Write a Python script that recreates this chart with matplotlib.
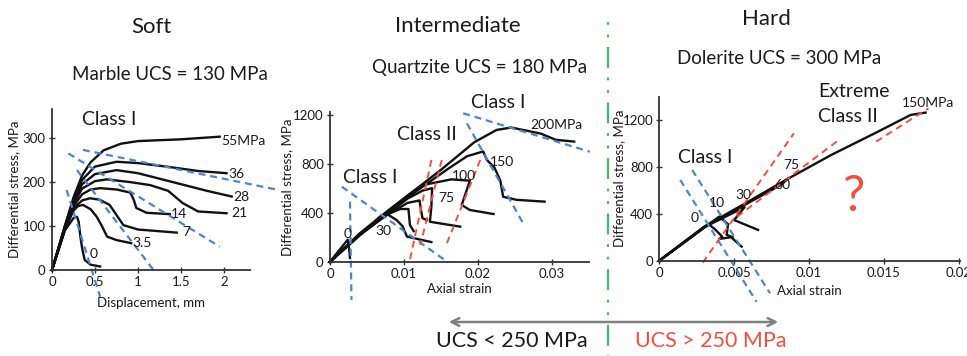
import matplotlib.pyplot as plt

plt.rcParams['font.family'] = ['Lato', 'DejaVu Sans']
plt.rcParams['lines.scale_dashes'] = False

W, H = 967, 356

# ---- Soft: marble, displacement (mm) vs differential stress (MPa)
m55_x = [0, 0.15, 0.25, 0.35, 0.45, 0.6, 0.8, 1.0, 1.5, 1.95]
m55_y = [0, 100, 165, 215, 245, 272, 287, 293, 297, 303]
m36_x = [0, 0.15, 0.25, 0.35, 0.5, 0.75, 1.0, 1.33, 1.7, 2.03]
m36_y = [0, 100, 160, 205, 235, 246, 243, 235, 225, 220]
m28_x = [0, 0.15, 0.25, 0.35, 0.5, 0.75, 1.0, 1.4, 1.8, 2.09]
m28_y = [0, 98, 155, 195, 218, 227, 220, 200, 180, 167]
m21_x = [0, 0.15, 0.25, 0.35, 0.5, 0.64, 0.9, 1.14, 1.35, 1.52, 1.7, 2.03]
m21_y = [0, 97, 150, 185, 202, 206, 200, 193, 180, 152, 133, 129]
m14_x = [0, 0.15, 0.25, 0.35, 0.45, 0.56, 0.75, 0.91, 0.95, 0.98, 1.1, 1.37]
m14_y = [0, 95, 145, 172, 183, 186, 183, 176, 160, 141, 130, 127]
m7_x = [0, 0.15, 0.25, 0.35, 0.44, 0.55, 0.67, 0.75, 0.83, 1.0, 1.45]
m7_y = [0, 93, 140, 158, 163, 160, 148, 125, 102, 92, 85]
m35_x = [0, 0.15, 0.25, 0.3, 0.36, 0.45, 0.52, 0.58, 0.64, 0.75, 0.92]
m35_y = [0, 92, 135, 145, 148, 138, 121, 100, 76, 68, 61]
m0_x = [0, 0.15, 0.25, 0.29, 0.31, 0.33, 0.35, 0.38, 0.45, 0.56]
m0_y = [0, 90, 118, 121, 110, 76, 50, 23, 12, 8]
soft_curves = [(m55_x, m55_y), (m36_x, m36_y), (m28_x, m28_y), (m21_x, m21_y),
               (m14_x, m14_y), (m7_x, m7_y), (m35_x, m35_y), (m0_x, m0_y)]
soft_labels = ['55MPa', '36', '28', '21', '14', '7', '3.5', '0']
soft_lab_x = [1.97, 2.05, 2.11, 2.08, 1.38, 1.52, 0.93, 0.44]
soft_lab_y = [294, 218, 165, 129, 127, 87, 61, 37]
soft_blue = [([0.19, 1.95], [265, 53]), ([0.36, 2.63], [273, 182]),
             ([0.29, 1.2], [227, -5]), ([0.17, 0.56], [182, -61])]

# ---- Intermediate: quartzite, axial strain vs differential stress (MPa)
q200_x = [0, 0.004, 0.008, 0.012, 0.015, 0.0195, 0.0225, 0.0245, 0.0265, 0.0285, 0.0305, 0.033]
q200_y = [0, 230, 425, 610, 750, 975, 1075, 1095, 1070, 1045, 995, 980]
q150_x = [0, 0.004, 0.008, 0.012, 0.016, 0.0185, 0.0207, 0.0212, 0.0222, 0.023, 0.0234, 0.0252, 0.029]
q150_y = [0, 225, 415, 590, 760, 860, 900, 830, 770, 665, 530, 505, 490]
q100_x = [0, 0.004, 0.008, 0.0105, 0.0126, 0.0164, 0.0189, 0.0178, 0.0189, 0.0221]
q100_y = [0, 222, 410, 540, 626, 672, 661, 463, 422, 389]
q75_x = [0, 0.004, 0.008, 0.0105, 0.0125, 0.0138, 0.0137, 0.0135, 0.0176]
q75_y = [0, 220, 400, 515, 580, 600, 450, 326, 286]
q60_x = [0, 0.004, 0.008, 0.0105, 0.0121, 0.0123, 0.0125, 0.0131]
q60_y = [0, 218, 395, 480, 500, 420, 355, 340]
q45_x = [0, 0.004, 0.0075, 0.0095, 0.0106, 0.0108, 0.0113]
q45_y = [0, 215, 380, 430, 430, 300, 250]
q30_x = [0, 0.004, 0.0068, 0.0078, 0.009, 0.0098, 0.0104, 0.0115, 0.0137]
q30_y = [0, 215, 370, 385, 340, 290, 205, 190, 160]
q0_x = [0, 0.0024, 0.0026, 0.0027]
q0_y = [0, 180, 100, 30]
int_curves = [(q200_x, q200_y), (q150_x, q150_y), (q100_x, q100_y), (q75_x, q75_y),
              (q60_x, q60_y), (q45_x, q45_y), (q30_x, q30_y), (q0_x, q0_y)]
int_labels = ['200MPa', '150', '100', '75', '30', '0']
int_lab_x = [0.027, 0.0216, 0.0164, 0.0146, 0.0061, 0.0018]
int_lab_y = [1115, 816, 700, 517, 253, 226]
int_blue = [([0.0016, 0.0155], [612, 14]), ([0.0027, 0.0029], [490, -312]),
            ([0.018, 0.0351], [1211, 898]), ([0.0185, 0.0261], [1129, 313])]
int_red = [([0.0137, 0.0108], [830, 14]), ([0.0151, 0.0122], [830, 136]),
           ([0.0203, 0.0158], [830, 150])]

# ---- Hard: dolerite
d150_x = [0, 0.003, 0.0055, 0.0085, 0.0115, 0.0145, 0.0168, 0.0178]
d150_y = [0, 290, 470, 690, 900, 1090, 1240, 1260]
d60_x = [0, 0.003, 0.0055, 0.0082, 0.0086]
d60_y = [0, 285, 460, 650, 700]
d30_x = [0, 0.003, 0.0057, 0.005, 0.0066]
d30_y = [0, 285, 455, 346, 262]
d10_x = [0, 0.0040, 0.0046, 0.0045, 0.0049]
d10_y = [0, 375, 310, 220, 200]
d0_x = [0, 0.0033, 0.0037, 0.0042, 0.0040, 0.0048, 0.0055]
d0_y = [0, 310, 270, 205, 185, 200, 120]
hard_curves = [(d150_x, d150_y), (d60_x, d60_y), (d30_x, d30_y), (d10_x, d10_y), (d0_x, d0_y)]
hard_labels = ['150MPa', '75', '60', '30', '10', '0']
hard_lab_x = [0.0162, 0.0083, 0.0077, 0.0051, 0.0033, 0.0021]
hard_lab_y = [1340, 814, 644, 559, 488, 361]
hard_blue = [([0.0014, 0.0065], [687, -349]), ([0.0022, 0.0074], [772, -277])]
hard_red = [([0.0029, 0.009], [-17, 1084]), ([0.0052, 0.012], [374, 1027]),
            ([0.0145, 0.018], [1013, 1297])]

BLUE = '#4a86d0'
RED = '#f0503c'
GREEN = '#3dbb6a'
INK = '#1a1a1a'


def px_box(x0, x1, y0, y1):
    # pixel rectangle -> figure fraction [left, bottom, width, height]
    return [x0 / W, 1 - y0 / H, (x1 - x0) / W, (y0 - y1) / H]


fig = plt.figure(figsize=(W / 100, H / 100), dpi=100)

ax1 = fig.add_axes(px_box(52, 249.8, 270, 109.4))
ax2 = fig.add_axes(px_box(330, 589, 261.7, 112.2))
ax3 = fig.add_axes(px_box(659.3, 960, 260.7, 96.7))

panels = [
    (ax1, soft_curves, soft_labels, soft_lab_x, soft_lab_y, soft_blue, []),
    (ax2, int_curves, int_labels, int_lab_x, int_lab_y, int_blue, int_red),
    (ax3, hard_curves, hard_labels, hard_lab_x, hard_lab_y, hard_blue, hard_red),
]

for ax, curves, labs, lx, ly, blues, reds in panels:
    for cx, cy in curves:
        ax.plot(cx, cy, color='#111111', lw=1.7, clip_on=False, solid_joinstyle='round')
    for bx, by in blues:
        ax.plot(bx, by, color=BLUE, lw=1.6, ls=(0, (5, 3.5)), clip_on=False)
    for rx, ry in reds:
        ax.plot(rx, ry, color=RED, lw=1.4, ls=(0, (5, 3.5)), clip_on=False)
    for t, x, y in zip(labs, lx, ly):
        ax.text(x, y, t, fontsize=10, ha='left', va='center', color=INK)
    for s in ['top', 'right']:
        ax.spines[s].set_visible(False)
    for s in ['left', 'bottom']:
        ax.spines[s].set_linewidth(1.3)
        ax.spines[s].set_color('#333333')
    ax.tick_params(direction='inout', length=5, width=1, labelsize=9.5,
                   colors='#333333', labelcolor=INK, pad=2)
    ax.set_facecolor('none')

ax1.set_xlim(0, 2.3)
ax1.set_ylim(0, 365)
ax1.set_xticks([0, 0.5, 1, 1.5, 2], ['0', '0.5', '1', '1.5', '2'])
ax1.set_yticks([0, 100, 200, 300])
ax1.set_xlabel('Displacement, mm', fontsize=9.5, labelpad=6, color=INK)
ax1.set_ylabel('Differential stress, MPa', fontsize=9.5, labelpad=2, color=INK)
ax1.text(0.67, 341, 'Class I', fontsize=14, ha='center', va='center', color=INK)

ax2.set_xlim(0, 0.035)
ax2.set_ylim(0, 1220)
ax2.set_xticks([0, 0.01, 0.02, 0.03], ['0', '0.01', '0.02', '0.03'])
ax2.set_yticks([0, 400, 800, 1200])
ax2.set_xlabel('Axial strain', fontsize=9.5, labelpad=2, color=INK)
ax2.set_ylabel('Differential stress, MPa', fontsize=9.5, labelpad=0, color=INK)
ax2.text(0.0054, 691, 'Class I', fontsize=14, ha='center', va='center', color=INK)
ax2.text(0.0131, 1034, 'Class II', fontsize=14, ha='center', va='center', color=INK)
ax2.text(0.0227, 1303, 'Class I', fontsize=14, ha='center', va='center', color=INK)

ax3.set_xlim(0, 0.0201)
ax3.set_ylim(0, 1395)
ax3.set_xticks([0, 0.005, 0.01, 0.015, 0.02], ['0', '0.005', '0.01', '0.015', '0.02'])
ax3.set_yticks([0, 400, 800, 1200])
ax3.set_xlabel('Axial strain', fontsize=9.5, labelpad=4, color=INK)
ax3.set_ylabel('Differential stress, MPa', fontsize=9.5, labelpad=-2, color=INK)
ax3.text(0.00305, 874, 'Class I', fontsize=14, ha='center', va='center', color=INK)
ax3.text(0.013, 1436, 'Extreme', fontsize=14, ha='center', va='center', color=INK)
ax3.text(0.01258, 1223, 'Class II', fontsize=14, ha='center', va='center', color=INK)
ax3.text(0.013, 542, '?', fontsize=36, ha='center', va='center', color=RED)

# headings
fig.text(151 / W, 1 - 27 / H, 'Soft', fontsize=16, ha='center', va='center', color=INK)
fig.text(458 / W, 1 - 26 / H, 'Intermediate', fontsize=16, ha='center', va='center', color=INK)
fig.text(766 / W, 1 - 19 / H, 'Hard', fontsize=16, ha='center', va='center', color=INK)
fig.text(170 / W, 1 - 75 / H, 'Marble UCS = 130 MPa', fontsize=13.5, ha='center', va='center', color=INK)
fig.text(480 / W, 1 - 67 / H, 'Quartzite UCS = 180 MPa', fontsize=13.5, ha='center', va='center', color=INK)
fig.text(779 / W, 1 - 58 / H, 'Dolerite UCS = 300 MPa', fontsize=13.5, ha='center', va='center', color=INK)

# divider line and UCS arrow on a full-figure overlay in pixel units
ov = fig.add_axes([0, 0, 1, 1], zorder=-1)
ov.set_xlim(0, W)
ov.set_ylim(H, 0)
ov.axis('off')
divider_x = 608
ov.plot([divider_x, divider_x], [22, H], color=GREEN, lw=1.6,
        ls=(0, (2, 7, 2, 7, 15, 7)))
ov.annotate('', xy=(446, 322), xytext=(781, 322),
            arrowprops=dict(arrowstyle='<->', color='#808080', lw=1.8,
                            mutation_scale=14))
ov.text(512, 341, 'UCS < 250 MPa', fontsize=15.5, ha='center', va='center', color=INK)
ov.text(711, 341, 'UCS > 250 MPa', fontsize=15.5, ha='center', va='center', color=RED)

fig.savefig('out.png', dpi=100)
